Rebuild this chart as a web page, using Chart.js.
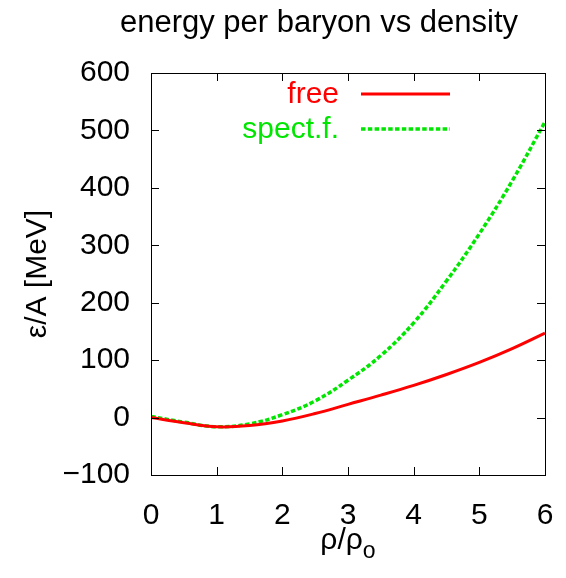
<!DOCTYPE html>
<html>
<head>
<meta charset="utf-8">
<script src="https://cdn.jsdelivr.net/npm/chart.js@4.4.1/dist/chart.umd.min.js"></script>
<style>
  html, body { margin: 0; padding: 0; background: #fff; }
  #wrap { width: 566px; height: 578px; }
</style>
</head>
<body>
<div id="wrap"><canvas id="chart" width="566" height="578"></canvas></div>
<script>
// density rho/rho0
const rho = [0, 0.5, 1, 1.5, 2, 2.5, 3, 3.5, 4, 4.5, 5, 5.5, 6];
// energy per baryon [MeV]
const freeE = [0, -9, -16, -14, -6, 7, 23, 39, 56, 75, 96, 120, 147];
const spectE = [2, -8, -16, -11, 5, 29, 65, 108, 165, 238, 320, 412, 515];
const seriesLabels = ['free', 'spect.f.'];
const yMin = -100, yMax = 600, yStep = 100;
const xMin = 0, xMax = 6;

const FONT = 'Liberation Sans, Arial, sans-serif';

const toPts = (xs, ys) => xs.map((x, i) => ({ x: x, y: ys[i] }));

// ticks drawn inward on all four sides, plus frame
const frameTicks = {
    id: 'frameTicks',
    afterDraw(chart) {
        const { ctx, chartArea: a, scales } = chart;
        const len = 8;
        ctx.save();
        ctx.strokeStyle = '#000';
        ctx.lineWidth = 1;
        ctx.beginPath();
        scales.x.ticks.forEach(t => {
            const px = Math.round(scales.x.getPixelForValue(t.value)) + 0.5;
            ctx.moveTo(px, a.bottom); ctx.lineTo(px, a.bottom - len);
            ctx.moveTo(px, a.top); ctx.lineTo(px, a.top + len);
        });
        scales.y.ticks.forEach(t => {
            const py = Math.round(scales.y.getPixelForValue(t.value)) + 0.5;
            ctx.moveTo(a.left, py); ctx.lineTo(a.left + len, py);
            ctx.moveTo(a.right, py); ctx.lineTo(a.right - len, py);
        });
        ctx.stroke();
        ctx.strokeRect(Math.round(a.left) + 0.5, Math.round(a.top) + 0.5,
            Math.round(a.right - a.left), Math.round(a.bottom - a.top));
        ctx.restore();
    }
};

// title, axis titles and gnuplot-style legend (text then line sample)
const labelsPlugin = {
    id: 'labelsPlugin',
    afterDraw(chart) {
        const { ctx, chartArea: a } = chart;
        ctx.save();
        ctx.fillStyle = '#000';
        ctx.font = '31px ' + FONT;
        ctx.textAlign = 'center';
        ctx.textBaseline = 'alphabetic';
        ctx.fillText('energy per baryon vs density', 319, 32);

        // x title with subscript
        const main = 'ρ/ρ';
        ctx.font = '30px ' + FONT;
        const w1 = ctx.measureText(main).width;
        ctx.font = '23px ' + FONT;
        const w2 = ctx.measureText('o').width;
        const x0 = (a.left + a.right) / 2 - (w1 + w2) / 2;
        ctx.font = '30px ' + FONT;
        ctx.textAlign = 'left';
        ctx.fillText(main, x0, 549);
        ctx.font = '23px ' + FONT;
        ctx.fillText('o', x0 + w1, 558);

        // y title
        ctx.font = '30px ' + FONT;
        ctx.translate(46, (a.top + a.bottom) / 2);
        ctx.rotate(-Math.PI / 2);
        ctx.textAlign = 'center';
        ctx.fillText('ε/A [MeV]', 0, 0);
        ctx.restore();

        // legend
        ctx.save();
        ctx.font = '30px ' + FONT;
        ctx.textAlign = 'right';
        ctx.textBaseline = 'middle';
        chart.data.datasets.forEach((ds, i) => {
            const y = 94 + i * 35;
            ctx.fillStyle = ds.borderColor;
            ctx.fillText(ds.label, 339, y + 1);
            ctx.strokeStyle = ds.borderColor;
            ctx.lineWidth = ds.borderWidth;
            ctx.setLineDash(ds.borderDash || []);
            ctx.beginPath();
            ctx.moveTo(361, y);
            ctx.lineTo(450, y);
            ctx.stroke();
        });
        ctx.restore();
    }
};

const ctx = document.getElementById('chart').getContext('2d');
const myChart = new Chart(ctx, {
    type: 'line',
    data: {
        datasets: [{
            label: seriesLabels[0],
            data: toPts(rho, freeE),
            borderColor: 'rgb(255, 0, 0)',
            borderWidth: 3,
            pointRadius: 0,
            tension: 0.4
        },
        {
            label: seriesLabels[1],
            data: toPts(rho, spectE),
            borderColor: 'rgb(0, 230, 0)',
            borderWidth: 3.5,
            borderDash: [4.5, 2.3],
            pointRadius: 0,
            tension: 0.4
        }]
    },
    options: {
        responsive: false,
        animation: false,
        layout: { padding: { left: 0, right: 21, top: 73, bottom: 0 } },
        plugins: {
            legend: { display: false },
            title: { display: false },
            tooltip: { enabled: false }
        },
        scales: {
            x: {
                type: 'linear',
                min: xMin,
                max: xMax,
                afterFit: (s) => { s.height = 103; s.paddingLeft = 0; s.paddingRight = 0; },
                grid: { display: false, drawTicks: false },
                border: { display: false },
                ticks: {
                    stepSize: 1,
                    color: '#000',
                    padding: 23,
                    maxRotation: 0,
                    font: { family: FONT, size: 30 }
                }
            },
            y: {
                min: yMin,
                max: yMax,
                afterFit: (s) => { s.width = 151; s.paddingTop = 0; s.paddingBottom = 0; },
                grid: { display: false, drawTicks: false },
                border: { display: false },
                ticks: {
                    stepSize: yStep,
                    color: '#000',
                    padding: 21,
                    font: { family: FONT, size: 30 },
                    callback: (v) => String(v).replace('-', '\u2212')
                }
            }
        }
    },
    plugins: [frameTicks, labelsPlugin]
});
</script>
</body>
</html>
